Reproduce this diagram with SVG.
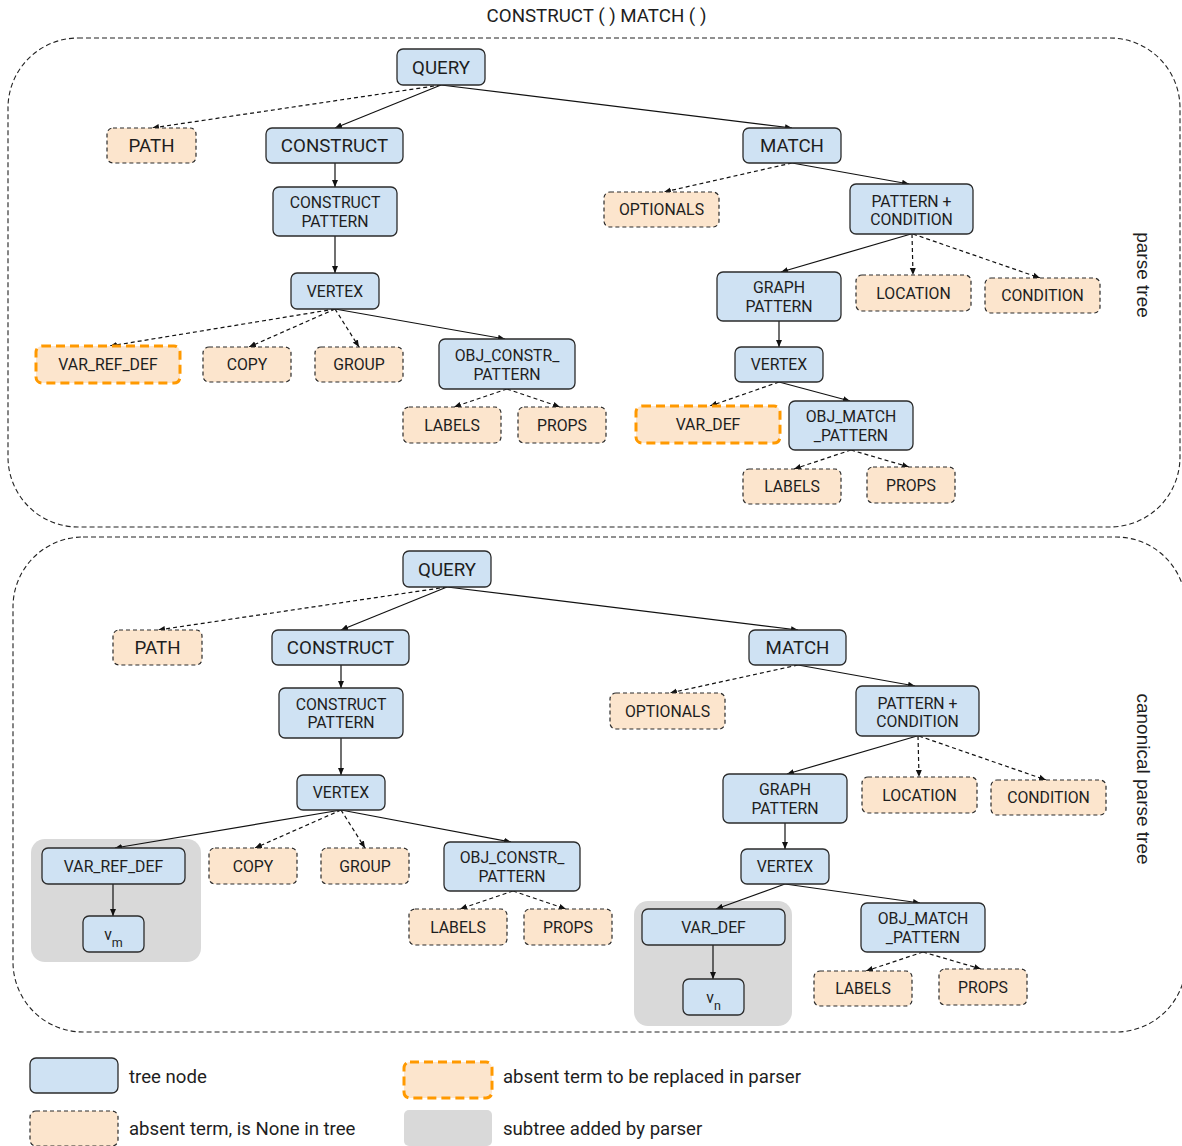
<svg xmlns="http://www.w3.org/2000/svg" width="1182" height="1146" viewBox="0 0 1182 1146">
  <defs>
    <marker id="arrow" markerUnits="userSpaceOnUse" markerWidth="8" markerHeight="7" refX="7" refY="3.5" orient="auto">
      <path d="M0,0.5 L7,3.5 L0,6.5 z" fill="#111"/>
    </marker>
    <style>
      text { font-family: Roboto, "Liberation Sans", sans-serif; fill: #1e1e1e; }
      .lbl { text-anchor: middle; font-size: 15.8px; }
      .big { text-anchor: middle; font-size: 18.7px; }
      .side { font-family: "Liberation Sans", Arial, sans-serif; font-size: 19px; text-anchor: middle; }
      .leg { font-size: 18.6px; }
      .node { fill: #cfe2f3; stroke: #2b2b2b; stroke-width: 1.3; }
      .none { fill: #fce5cd; stroke: #2b2b2b; stroke-width: 1.2; stroke-dasharray: 4 3; }
      .repl { fill: #fce5cd; stroke: #ff9900; stroke-width: 3; stroke-dasharray: 9 5; }
      .sub { fill: #d9d9d9; stroke: none; }
      .frame { fill: none; stroke: #222; stroke-width: 1.1; stroke-dasharray: 5 3; }
      .e { fill: none; stroke: #111; stroke-width: 1.2; marker-end: url(#arrow); }
      .d { stroke-dasharray: 4 3; }
    </style>
  </defs>

  <rect width="1182" height="1146" fill="#ffffff"/>

  <!-- title -->
  <text class="big" x="596.5" y="22">CONSTRUCT ( ) MATCH ( )</text>

  <!-- tree frames -->
  <g id="frame-parse">
    <rect class="frame" x="8" y="38" width="1172" height="489" rx="70" ry="70"/>
    <text class="side" transform="translate(1137,275) rotate(90)">parse tree</text>
  </g>
  <g id="frame-canonical">
    <rect class="frame" x="13" y="537" width="1173" height="495" rx="70" ry="70"/>
    <text class="side" transform="translate(1137,779) rotate(90)">canonical parse tree</text>
  </g>

  <!-- subtrees added by the parser -->
  <rect class="sub" x="31" y="839" width="170" height="123" rx="14"/>
  <rect class="sub" x="634" y="901" width="158" height="125" rx="14"/>

  <!-- connectors -->
  <g id="connectors">
    <!-- parse tree -->
    <line class="e d" x1="441" y1="85" x2="152" y2="128"/>
    <line class="e" x1="441" y1="85" x2="335" y2="128"/>
    <line class="e" x1="441" y1="85" x2="792" y2="128"/>
    <line class="e" x1="335" y1="163" x2="335" y2="187"/>
    <line class="e" x1="335" y1="236" x2="335" y2="273"/>
    <line class="e d" x1="335" y1="309" x2="110" y2="346"/>
    <line class="e d" x1="335" y1="309" x2="249" y2="347"/>
    <line class="e d" x1="335" y1="309" x2="359" y2="347"/>
    <line class="e" x1="335" y1="309" x2="505" y2="339"/>
    <line class="e d" x1="507" y1="389" x2="454" y2="407"/>
    <line class="e d" x1="507" y1="389" x2="560" y2="407"/>
    <line class="e d" x1="792" y1="163" x2="664" y2="192"/>
    <line class="e" x1="792" y1="163" x2="909" y2="184"/>
    <line class="e" x1="911" y1="234" x2="781" y2="272"/>
    <line class="e d" x1="912" y1="234" x2="913" y2="275"/>
    <line class="e d" x1="913" y1="234" x2="1040" y2="278"/>
    <line class="e" x1="779" y1="321" x2="779" y2="347"/>
    <line class="e d" x1="779" y1="382" x2="710" y2="406"/>
    <line class="e" x1="779" y1="382" x2="850" y2="401"/>
    <line class="e d" x1="851" y1="450" x2="794" y2="469"/>
    <line class="e d" x1="851" y1="450" x2="909" y2="467"/>
    <!-- canonical parse tree -->
    <line class="e d" x1="447" y1="587" x2="158" y2="630"/>
    <line class="e" x1="447" y1="587" x2="341" y2="630"/>
    <line class="e" x1="447" y1="587" x2="798" y2="630"/>
    <line class="e" x1="341" y1="665" x2="341" y2="688"/>
    <line class="e" x1="341" y1="738" x2="341" y2="775"/>
    <line class="e" x1="341" y1="810" x2="115" y2="848"/>
    <line class="e d" x1="341" y1="810" x2="255" y2="848"/>
    <line class="e d" x1="341" y1="810" x2="365" y2="848"/>
    <line class="e" x1="341" y1="810" x2="511" y2="842"/>
    <line class="e d" x1="513" y1="891" x2="460" y2="909"/>
    <line class="e d" x1="513" y1="891" x2="566" y2="909"/>
    <line class="e" x1="113" y1="884" x2="113" y2="916"/>
    <line class="e d" x1="798" y1="665" x2="670" y2="693"/>
    <line class="e" x1="798" y1="665" x2="915" y2="686"/>
    <line class="e" x1="917" y1="736" x2="787" y2="774"/>
    <line class="e d" x1="918" y1="736" x2="919" y2="777"/>
    <line class="e d" x1="919" y1="736" x2="1046" y2="780"/>
    <line class="e" x1="785" y1="823" x2="785" y2="849"/>
    <line class="e" x1="785" y1="884" x2="716" y2="909"/>
    <line class="e" x1="785" y1="884" x2="920" y2="903"/>
    <line class="e" x1="713" y1="945" x2="713" y2="979"/>
    <line class="e d" x1="923" y1="952" x2="866" y2="971"/>
    <line class="e d" x1="923" y1="952" x2="981" y2="969"/>
  </g>

  <!-- parse tree nodes -->
  <g id="p-query"><rect class="node" x="397" y="49" width="88" height="36" rx="6"/><text class="big" x="441" y="73.5">QUERY</text></g>
  <g id="p-path"><rect class="none" x="107" y="128" width="89" height="35" rx="6"/><text class="big" x="151.5" y="152">PATH</text></g>
  <g id="p-construct"><rect class="node" x="266" y="128" width="137" height="35" rx="6"/><text class="big" x="334.5" y="152">CONSTRUCT</text></g>
  <g id="p-match"><rect class="node" x="743" y="128" width="98" height="35" rx="6"/><text class="big" x="792" y="152">MATCH</text></g>
  <g id="p-construct-pattern"><rect class="node" x="273" y="187" width="124" height="49" rx="6"/><text class="lbl" x="335" y="208">CONSTRUCT</text><text class="lbl" x="335" y="226.5">PATTERN</text></g>
  <g id="p-vertex-c"><rect class="node" x="291" y="273" width="88" height="36" rx="6"/><text class="lbl" x="335" y="296.5">VERTEX</text></g>
  <g id="p-var-ref-def"><rect class="repl" x="36" y="346" width="144" height="37" rx="6"/><text class="lbl" x="108" y="370">VAR_REF_DEF</text></g>
  <g id="p-copy"><rect class="none" x="203" y="347" width="88" height="35" rx="6"/><text class="lbl" x="247" y="370">COPY</text></g>
  <g id="p-group"><rect class="none" x="315" y="347" width="88" height="35" rx="6"/><text class="lbl" x="359" y="370">GROUP</text></g>
  <g id="p-obj-constr"><rect class="node" x="439" y="339" width="136" height="50" rx="6"/><text class="lbl" x="507" y="361">OBJ_CONSTR_</text><text class="lbl" x="507" y="379.5">PATTERN</text></g>
  <g id="p-labels-c"><rect class="none" x="403" y="407" width="98" height="36" rx="6"/><text class="lbl" x="452" y="430.5">LABELS</text></g>
  <g id="p-props-c"><rect class="none" x="518" y="407" width="88" height="36" rx="6"/><text class="lbl" x="562" y="430.5">PROPS</text></g>
  <g id="p-optionals"><rect class="none" x="604" y="192" width="115" height="35" rx="6"/><text class="lbl" x="661.5" y="215">OPTIONALS</text></g>
  <g id="p-pattern-condition"><rect class="node" x="850" y="184" width="123" height="50" rx="6"/><text class="lbl" x="911.5" y="206.5">PATTERN +</text><text class="lbl" x="911.5" y="225">CONDITION</text></g>
  <g id="p-graph-pattern"><rect class="node" x="717" y="272" width="124" height="49" rx="6"/><text class="lbl" x="779" y="293">GRAPH</text><text class="lbl" x="779" y="311.5">PATTERN</text></g>
  <g id="p-location"><rect class="none" x="856" y="275" width="115" height="36" rx="6"/><text class="lbl" x="913.5" y="298.5">LOCATION</text></g>
  <g id="p-condition"><rect class="none" x="985" y="278" width="115" height="35" rx="6"/><text class="lbl" x="1042.5" y="301">CONDITION</text></g>
  <g id="p-vertex-m"><rect class="node" x="735" y="347" width="88" height="35" rx="6"/><text class="lbl" x="779" y="370">VERTEX</text></g>
  <g id="p-var-def"><rect class="repl" x="636" y="406" width="144" height="37" rx="6"/><text class="lbl" x="708" y="430">VAR_DEF</text></g>
  <g id="p-obj-match"><rect class="node" x="789" y="401" width="124" height="49" rx="6"/><text class="lbl" x="851" y="422">OBJ_MATCH</text><text class="lbl" x="851" y="440.5">_PATTERN</text></g>
  <g id="p-labels-m"><rect class="none" x="743" y="469" width="98" height="35" rx="6"/><text class="lbl" x="792" y="492">LABELS</text></g>
  <g id="p-props-m"><rect class="none" x="867" y="467" width="88" height="36" rx="6"/><text class="lbl" x="911" y="490.5">PROPS</text></g>

  <!-- canonical parse tree nodes -->
  <g id="c-query"><rect class="node" x="403" y="551" width="88" height="36" rx="6"/><text class="big" x="447" y="575.5">QUERY</text></g>
  <g id="c-path"><rect class="none" x="113" y="630" width="89" height="35" rx="6"/><text class="big" x="157.5" y="654">PATH</text></g>
  <g id="c-construct"><rect class="node" x="272" y="630" width="137" height="35" rx="6"/><text class="big" x="340.5" y="654">CONSTRUCT</text></g>
  <g id="c-match"><rect class="node" x="749" y="630" width="97" height="35" rx="6"/><text class="big" x="797.5" y="654">MATCH</text></g>
  <g id="c-construct-pattern"><rect class="node" x="279" y="688" width="124" height="50" rx="6"/><text class="lbl" x="341" y="709.5">CONSTRUCT</text><text class="lbl" x="341" y="728">PATTERN</text></g>
  <g id="c-vertex-c"><rect class="node" x="297" y="775" width="88" height="35" rx="6"/><text class="lbl" x="341" y="798">VERTEX</text></g>
  <g id="c-var-ref-def"><rect class="node" x="42" y="848" width="143" height="36" rx="6"/><text class="lbl" x="113.5" y="871.5">VAR_REF_DEF</text></g>
  <g id="c-vm"><rect class="node" x="83" y="916" width="61" height="36" rx="6"/><text class="lbl" x="113.5" y="940">v<tspan font-size="12.5" dy="7">m</tspan></text></g>
  <g id="c-copy"><rect class="none" x="209" y="848" width="88" height="36" rx="6"/><text class="lbl" x="253" y="871.5">COPY</text></g>
  <g id="c-group"><rect class="none" x="321" y="848" width="88" height="36" rx="6"/><text class="lbl" x="365" y="871.5">GROUP</text></g>
  <g id="c-obj-constr"><rect class="node" x="444" y="842" width="136" height="49" rx="6"/><text class="lbl" x="512" y="863">OBJ_CONSTR_</text><text class="lbl" x="512" y="881.5">PATTERN</text></g>
  <g id="c-labels-c"><rect class="none" x="409" y="909" width="98" height="36" rx="6"/><text class="lbl" x="458" y="932.5">LABELS</text></g>
  <g id="c-props-c"><rect class="none" x="524" y="909" width="88" height="36" rx="6"/><text class="lbl" x="568" y="932.5">PROPS</text></g>
  <g id="c-optionals"><rect class="none" x="610" y="693" width="115" height="36" rx="6"/><text class="lbl" x="667.5" y="716.5">OPTIONALS</text></g>
  <g id="c-pattern-condition"><rect class="node" x="856" y="686" width="123" height="50" rx="6"/><text class="lbl" x="917.5" y="708.5">PATTERN +</text><text class="lbl" x="917.5" y="727">CONDITION</text></g>
  <g id="c-graph-pattern"><rect class="node" x="723" y="774" width="124" height="49" rx="6"/><text class="lbl" x="785" y="795">GRAPH</text><text class="lbl" x="785" y="813.5">PATTERN</text></g>
  <g id="c-location"><rect class="none" x="862" y="777" width="115" height="36" rx="6"/><text class="lbl" x="919.5" y="800.5">LOCATION</text></g>
  <g id="c-condition"><rect class="none" x="991" y="780" width="115" height="35" rx="6"/><text class="lbl" x="1048.5" y="803">CONDITION</text></g>
  <g id="c-vertex-m"><rect class="node" x="741" y="849" width="88" height="35" rx="6"/><text class="lbl" x="785" y="872">VERTEX</text></g>
  <g id="c-var-def"><rect class="node" x="642" y="909" width="143" height="36" rx="6"/><text class="lbl" x="713.5" y="932.5">VAR_DEF</text></g>
  <g id="c-vn"><rect class="node" x="683" y="979" width="61" height="36" rx="6"/><text class="lbl" x="713.5" y="1003">v<tspan font-size="12.5" dy="7">n</tspan></text></g>
  <g id="c-obj-match"><rect class="node" x="861" y="903" width="124" height="49" rx="6"/><text class="lbl" x="923" y="924">OBJ_MATCH</text><text class="lbl" x="923" y="942.5">_PATTERN</text></g>
  <g id="c-labels-m"><rect class="none" x="814" y="971" width="98" height="35" rx="6"/><text class="lbl" x="863" y="994">LABELS</text></g>
  <g id="c-props-m"><rect class="none" x="939" y="969" width="88" height="36" rx="6"/><text class="lbl" x="983" y="992.5">PROPS</text></g>

  <!-- legend -->
  <g id="legend">
    <rect class="node" x="30" y="1058" width="88" height="35" rx="6"/>
    <text class="leg" x="129" y="1083">tree node</text>
    <rect class="none" x="30" y="1111" width="88" height="35" rx="6"/>
    <text class="leg" x="129" y="1135">absent term, is None in tree</text>
    <rect class="repl" x="404" y="1062" width="88" height="36" rx="6"/>
    <text class="leg" x="503" y="1083">absent term to be replaced in parser</text>
    <rect class="sub" x="404" y="1110" width="88" height="36" rx="5"/>
    <text class="leg" x="503" y="1135">subtree added by parser</text>
  </g>
</svg>
